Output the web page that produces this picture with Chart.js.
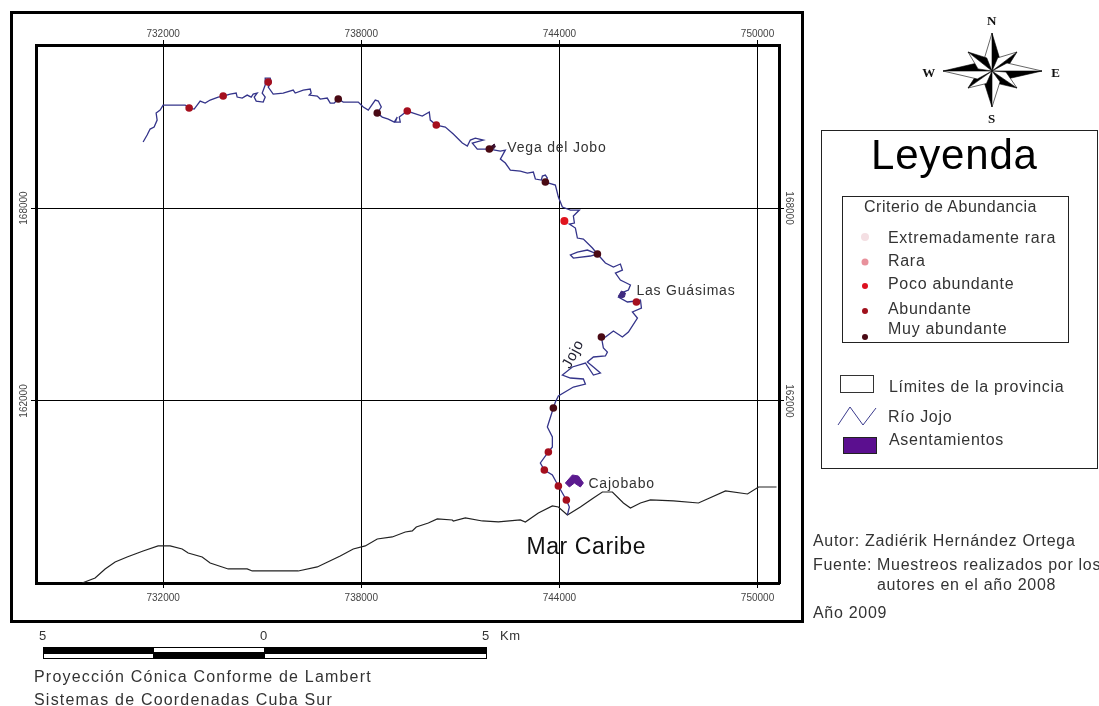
<!DOCTYPE html>
<html lang="es">
<head>
<meta charset="utf-8">
<title>Río Jojo</title>
<script src="https://cdn.jsdelivr.net/npm/chart.js@4"></script>
<style>
  html, body { margin: 0; padding: 0; background: #fff; }
  #page { position: relative; width: 1099px; height: 706px; overflow: hidden; font-family: "Liberation Sans", Arial, sans-serif; color: #333; }
  #map { position: absolute; left: 0; top: 0; }
  .frame { position: absolute; box-sizing: border-box; border: 1px solid #222; }
  .t { position: absolute; white-space: nowrap; line-height: 1; transform: translateY(-50%); font-size: 16px; letter-spacing: 0.7px; }
  .dot { position: absolute; border-radius: 50%; transform: translate(-50%, -50%); }
  svg { position: absolute; left: 0; top: 0; }
</style>
</head>
<body>
<div id="page">
  <canvas id="map" width="1099" height="706"></canvas>

  <div class="frame" style="left:10px;top:11px;width:794px;height:612px;border:3px solid #000"></div>

  <svg width="1099" height="706" id="deco">
    <g id="rose"></g>
    <rect x="840.5" y="375.5" width="33" height="17" fill="#fff" stroke="#333"/>
    <polyline points="838,425 850,407 863,425 876,408" fill="none" stroke="#3a3a8c" stroke-width="1"/>
    <rect x="843.5" y="437.5" width="33" height="16" fill="#5b0f8f" stroke="#222"/>
    <g stroke="#000" stroke-width="1">
      <rect x="43.5" y="647.5" width="110" height="6" fill="#000"/>
      <rect x="43.5" y="653.5" width="110" height="5" fill="#fff"/>
      <rect x="153.5" y="647.5" width="111" height="5" fill="#fff"/>
      <rect x="153.5" y="652.5" width="111" height="6" fill="#000"/>
      <rect x="264.5" y="647.5" width="222" height="6" fill="#000"/>
      <rect x="264.5" y="653.5" width="222" height="5" fill="#fff"/>
    </g>
  </svg>

  <div class="t" style="left:992px;top:21px;transform:translate(-50%,-50%);font:bold 13px 'Liberation Serif',serif;color:#111">N</div>
  <div class="t" style="left:992px;top:119px;transform:translate(-50%,-50%);font:bold 13px 'Liberation Serif',serif;color:#111">S</div>
  <div class="t" style="left:929px;top:73px;transform:translate(-50%,-50%);font:bold 13px 'Liberation Serif',serif;color:#111">W</div>
  <div class="t" style="left:1056px;top:73px;transform:translate(-50%,-50%);font:bold 13px 'Liberation Serif',serif;color:#111">E</div>

  <div class="frame" style="left:821px;top:130px;width:277px;height:339px"></div>
  <div class="t" style="left:871px;top:155px;font-size:42px;letter-spacing:0.8px;color:#000">Leyenda</div>
  <div class="frame" style="left:842px;top:196px;width:227px;height:147px"></div>
  <div id="legendItems"></div>
  <div class="t" style="left:889px;top:387px">Límites de la provincia</div>
  <div class="t" style="left:888px;top:417px">Río Jojo</div>
  <div class="t" style="left:889px;top:440px">Asentamientos</div>

  <div class="t" style="left:813px;top:541px">Autor: Zadiérik Hernández Ortega</div>
  <div class="t" style="left:813px;top:565px">Fuente:</div>
  <div class="t" style="left:877px;top:565px">Muestreos realizados por los</div>
  <div class="t" style="left:877px;top:585px">autores en el año 2008</div>
  <div class="t" style="left:813px;top:613px">Año 2009</div>

  <div class="t" style="left:43px;top:635px;transform:translate(-50%,-50%);font-size:13px">5</div>
  <div class="t" style="left:264px;top:635px;transform:translate(-50%,-50%);font-size:13px">0</div>
  <div class="t" style="left:486px;top:635px;transform:translate(-50%,-50%);font-size:13px">5</div>
  <div class="t" style="left:500px;top:635px;font-size:13px">Km</div>
  <div class="t" style="left:34px;top:677px;letter-spacing:1.2px">Proyección Cónica Conforme de Lambert</div>
  <div class="t" style="left:34px;top:700px;letter-spacing:1.2px">Sistemas de Coordenadas Cuba Sur</div>
</div>

<script>
const xTicks = [732000, 738000, 744000, 750000];
const yTicks = [162000, 168000];

const riverX = [731394,731515,731606,731727,731818,731788,731909,732000,732515,732667,732788,732939,733030,733121,733273,733424,733667,733818,734030,734212,734242,734394,734545,734667,734727,734848,734758,734818,735030,735091,735000,735091,735091,735242,735273,735182,735333,735636,735939,736000,736242,736454,736484,736424,736667,736757,736969,737060,737181,737303,737454,737909,738060,738212,738424,738515,738606,738484,738636,738818,739000,739090,739030,739181,739151,739393,739575,739848,740060,740090,740272,740545,740787,741060,741212,741303,741454,741696,741363,741514,741878,742212,742363,742212,742363,742514,742817,743030,743211,743272,743454,743484,743575,743635,743575,743878,743969,744090,744333,744605,744423,744454,744302,744484,744545,744726,745000,745151,744847,744545,744333,744423,744938,745151,745393,745635,745847,745908,745696,745847,746151,746090,745938,745787,746060,746332,746454,746484,746211,746363,746090,745908,745635,745393,745272,745332,745454,745393,745030,744847,745030,745242,745030,744787,744393,744090,744333,744726,744787,744423,743969,743878,743817,743635,743787,743787,743666,743423,743544,743787,743969,744211,744302,744242];
const riverY = [170052,170270,170456,170518,170736,170954,171047,171202,171202,171202,171109,171078,171202,171327,171264,171358,171451,171482,171544,171575,171451,171420,171513,171451,171544,171575,171451,171327,171296,171451,171575,171824,172042,172042,171917,171762,171544,171575,171669,171575,171669,171700,171575,171513,171482,171389,171420,171264,171264,171389,171296,171296,171140,171047,171358,171327,171140,170954,170829,170767,170674,170829,170674,170674,170829,171016,170954,170860,170985,170736,170580,170518,170301,170021,169928,170114,170176,170114,170021,169834,169834,169772,169803,169523,169399,169181,169150,169088,169119,168902,168871,168995,169026,168933,168808,168715,168342,168031,167938,167938,167751,167534,167503,167378,167067,167036,166756,166570,166694,166632,166539,166445,166508,166570,166290,166166,166259,166072,165979,165762,165606,165451,165388,165233,165078,165109,165140,164891,164767,164580,164145,163989,164176,163989,163989,163647,163523,163399,163368,163212,163057,162870,162808,163181,163057,162808,162715,162684,162528,162435,162155,161969,161782,161191,160880,160570,160414,160072,159854,159699,159357,158922,158704,158455];

const coastX = [729546,729940,730243,730546,730909,731394,731848,732212,732576,732758,733182,733424,733970,734545,734697,736091,736667,737363,737757,738121,738484,738939,739333,739545,739666,740030,740302,740757,740787,741151,741666,742151,742817,742969,743363,743787,743969,744242,744635,745030,745302,745605,745938,746151,746454,746757,747454,748211,749030,749696,750030,750575];
const coastY = [156341,156497,156777,156994,157150,157336,157492,157492,157398,157274,157150,156963,156777,156777,156714,156714,156839,157181,157398,157492,157709,157772,157927,157958,158082,158207,158331,158300,158269,158362,158269,158238,158300,158238,158518,158735,158704,158455,158704,158984,159170,159170,158828,158673,158828,158922,158891,158828,159202,159108,159326,159326];

const pocoX = [744151];
const pocoY = [167596];
const abundanteX = [732788,733818,735182,739393,740272,746332,743666,743544,743969,744211];
const abundanteY = [171109,171482,171917,171016,170580,165078,160414,159854,159357,158922];
const muyX = [737303,738484,741878,743575,745151,745272,743817];
const muyY = [171389,170954,169834,168808,166570,163989,161782];

const cajobaboX = [744181,744393,744575,744726,744635,744454,744302,744181];
const cajobaboY = [159450,159699,159668,159450,159326,159450,159326,159450];
const guasimasX = [745787,745878,746000,745969,745847,745787];
const guasimasY = [165264,165420,165357,165233,165202,165264];
const vegaX = [741908,742030,742060,741938,741908];
const vegaY = [169896,169990,169896,169772,169896];

const placeNames = ["Vega del Jobo", "Las Guásimas", "Cajobabo"];
const placeX = [742424, 746332, 744880];
const placeY = [169865, 165420, 159420];

const legendNames = ["Extremadamente rara", "Rara", "Poco abundante", "Abundante", "Muy abundante"];
const legendColors = ["#f4dfe3", "#e8919c", "#dc1020", "#a0101c", "#4a0a14"];

function toPoints(xs, ys) {
  return xs.map((x, i) => ({ x, y: ys[i] }));
}

function dots(label, xs, ys, color, r) {
  return { label, data: toPoints(xs, ys), showLine: false, pointRadius: r, pointBackgroundColor: color, pointBorderWidth: 0, order: 1 };
}

function outline(label, xs, ys, color, width, fill) {
  return {
    label, data: toPoints(xs, ys), showLine: true, pointRadius: 0, borderColor: color,
    borderWidth: width, backgroundColor: color, fill: fill ? "shape" : false, tension: 0, order: fill ? 2 : 3
  };
}

// letreros dentro del mapa, anclados a las escalas
const mapLabels = {
  id: "mapLabels",
  afterDatasetsDraw(chart) {
    const { ctx, scales } = chart;
    ctx.save();
    ctx.fillStyle = "#333";
    ctx.textBaseline = "middle";
    ctx.font = "14px 'Liberation Sans'";
    ctx.letterSpacing = "0.8px";
    placeNames.forEach((name, i) => {
      ctx.fillText(name, scales.x.getPixelForValue(placeX[i]), scales.y.getPixelForValue(placeY[i]));
    });
    ctx.fillStyle = "#111";
    ctx.letterSpacing = "0.6px";
    ctx.font = "23px 'Liberation Sans'";
    ctx.fillText("Mar Caribe", scales.x.getPixelForValue(743000), scales.y.getPixelForValue(157430));
    ctx.translate(scales.x.getPixelForValue(744420), scales.y.getPixelForValue(163450));
    ctx.rotate(-62 * Math.PI / 180);
    ctx.textAlign = "center";
    ctx.fillStyle = "#223";
    ctx.font = "15px 'Liberation Sans'";
    ctx.fillText("Jojo", 0, 0);
    ctx.restore();
  }
};

function axis(position, ticks, extra) {
  return Object.assign({
    type: "linear",
    position,
    offset: false,
    border: { display: true, color: "#000", width: 3 },
    grid: { color: "#000", lineWidth: 1, drawOnChartArea: true, tickLength: 5, tickColor: "#000" },
    afterBuildTicks(scale) { scale.ticks = ticks.map(value => ({ value })); },
    ticks: { color: "#444", font: { family: "Liberation Sans", size: 10 }, callback: v => String(v) }
  }, extra);
}

function mainAxes() {
  const xr = { min: 728150, max: 750650 };
  const yr = { min: 156340, max: 173070 };
  const s = {
    x: axis("bottom", xTicks, xr),
    x2: axis("top", xTicks, xr),
    y: axis("left", yTicks, yr),
    y2: axis("right", yTicks, yr)
  };
  s.x.afterFit = a => { a.height = 40; };
  s.x2.afterFit = a => { a.height = 33; };
  s.y.afterFit = a => { a.width = 23; };
  s.y2.afterFit = a => { a.width = 24; };
  s.x.ticks = Object.assign({}, s.x.ticks, { maxRotation: 0, minRotation: 0, padding: 4 });
  s.x2.ticks = Object.assign({}, s.x2.ticks, { maxRotation: 0, minRotation: 0, padding: 0 });
  s.y.ticks = Object.assign({}, s.y.ticks, { minRotation: 90, maxRotation: 90, crossAlign: "center", padding: -10 });
  s.y2.ticks = Object.assign({}, s.y2.ticks, { minRotation: -90, maxRotation: -90, crossAlign: "center", padding: -12 });
  return s;
}

function buildChart() {
  const ctx = document.getElementById("map").getContext("2d");
  new Chart(ctx, {
    type: "scatter",
    data: {
      datasets: [
        dots("Poco abundante", pocoX, pocoY, "#e0141e", 4),
        dots("Abundante", abundanteX, abundanteY, "#a50f1e", 3.8),
        dots("Muy abundante", muyX, muyY, "#4a0a14", 3.8),
        outline("Cajobabo", cajobaboX, cajobaboY, "#5b1a8f", 1, true),
        outline("Las Guásimas", guasimasX, guasimasY, "#3f2a80", 1, true),
        outline("Vega del Jobo", vegaX, vegaY, "#3a1030", 1, true),
        outline("Río Jojo", riverX, riverY, "#34348a", 1.3),
        outline("Límites de la provincia", coastX, coastY, "#222", 1.2)
      ]
    },
    options: {
      responsive: false,
      animation: false,
      devicePixelRatio: 1,
      layout: { padding: { left: 13, top: 12, right: 296, bottom: 83 } },
      plugins: { legend: { display: false }, tooltip: { enabled: false }, title: { display: false } },
      scales: mainAxes()
    },
    plugins: [mapLabels]
  });
}

function buildLegend() {
  const tops = [238, 261, 284, 309, 329];
  const dotY = [237, 262, 286, 311, 337];
  const dotR = [8, 7, 6, 6, 6];
  const box = document.getElementById("legendItems");
  let html = '<div class="t" style="left:864px;top:207px;letter-spacing:0.5px">Criterio de Abundancia</div>';
  legendNames.forEach((name, i) => {
    html += `<span class="dot" style="left:865px;top:${dotY[i]}px;width:${dotR[i]}px;height:${dotR[i]}px;background:${legendColors[i]}"></span>`;
    html += `<div class="t" style="left:888px;top:${tops[i]}px">${name}</div>`;
  });
  box.innerHTML = html;
}

// rosa de los vientos
function buildRose() {
  const cx = 992, cy = 71;
  const tips = [[0,-38],[25,-19],[50,0],[25,17],[0,36],[-24,17],[-49,0],[-24,-19]];
  let html = "";
  tips.forEach(([dx, dy], i) => {
    const main = i % 2 === 0;
    const w = main ? 8 : 7;
    const len = Math.hypot(dx, dy);
    const nx = -dy / len * w, ny = dx / len * w;
    const f = main ? 0.3 : 0.4;
    const mx = cx + dx * f, my = cy + dy * f;
    const a = `${cx},${cy} ${cx + dx},${cy + dy} ${mx + nx},${my + ny}`;
    const b = `${cx},${cy} ${cx + dx},${cy + dy} ${mx - nx},${my - ny}`;
    html += `<polygon points="${a}" fill="#000" stroke="#000" stroke-width="0.6"/>`;
    html += `<polygon points="${b}" fill="#fff" stroke="#000" stroke-width="0.6"/>`;
  });
  document.getElementById("rose").innerHTML = html;
}

buildRose();
buildLegend();
buildChart();
</script>
</body>
</html>
